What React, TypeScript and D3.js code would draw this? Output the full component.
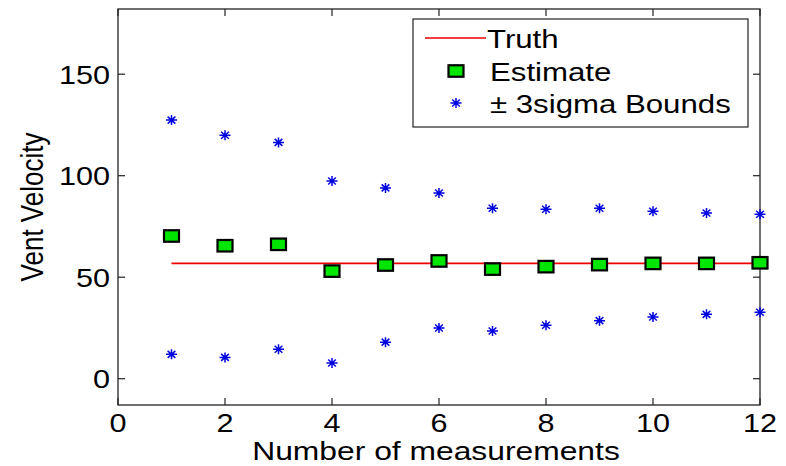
import React from "react";
import * as d3 from "d3";

// Measurement index and the quantities plotted against it
const measurements = [1, 2, 3, 4, 5, 6, 7, 8, 9, 10, 11, 12];
const estimate = [70.3, 65.5, 66.2, 53.0, 56.0, 58.0, 54.0, 55.2, 56.2, 56.8, 56.8, 57.1];
const upperBound = [127.4, 119.9, 116.4, 97.4, 94.0, 91.5, 84.0, 83.5, 84.0, 82.5, 81.6, 81.0];
const lowerBound = [12.0, 10.5, 14.5, 7.7, 18.0, 25.0, 23.5, 26.3, 28.6, 30.4, 31.7, 32.7];
const truthValue = 56.8;

const xTicks = [0, 2, 4, 6, 8, 10, 12];
const yTicks = [0, 50, 100, 150];

const legendLabels = ["Truth", "Estimate", "\u00b1 3sigma Bounds"];

const W = 786;
const H = 466;
const left = 118;
const right = 760;
const top = 9;
const bottom = 405;

const FONT = "'Liberation Sans', Arial, sans-serif";
const SX = 1.2;

const x = d3.scaleLinear().domain([0, 12]).range([left, right]);
const y = d3.scaleLinear().domain([0, 50]).range([378.7, 277.2]);

function Txt({ px, py, size, anchor = "start", rotate = 0, children }: any) {
  return (
    <text
      transform={`translate(${px},${py}) scale(${SX},1) rotate(${rotate})`}
      fontFamily={FONT}
      fontSize={size}
      textAnchor={anchor}
      fill="#000"
    >
      {children}
    </text>
  );
}

function Star({ cx, cy }: { cx: number; cy: number }) {
  const rx = 5.5;
  const ry = 5;
  const dx = rx * 0.7;
  const dy = ry * 0.7;
  return (
    <path
      d={`M${cx - rx},${cy}H${cx + rx}M${cx},${cy - ry}V${cy + ry}M${cx - dx},${cy - dy}L${cx + dx},${cy + dy}M${cx - dx},${cy + dy}L${cx + dx},${cy - dy}`}
      stroke="#0000e0"
      strokeWidth={1.5}
      fill="none"
    />
  );
}

function Square({ cx, cy }: { cx: number; cy: number }) {
  const w = 15;
  const h = 11.5;
  return (
    <rect
      x={cx - w / 2}
      y={cy - h / 2}
      width={w}
      height={h}
      fill="#00e600"
      stroke="#000"
      strokeWidth={2.2}
    />
  );
}

export default function App() {
  const truthLine = d3
    .line<number>()
    .x((d) => x(d))
    .y(() => y(truthValue))([measurements[0], measurements[measurements.length - 1]]);

  const tickLen = 7;

  return (
    <svg
      width={W}
      height={H}
      style={{ position: "absolute", left: 0, top: 0, background: "#fff" }}
    >
      <rect x={0} y={0} width={W} height={H} fill="#fff" />

      {/* Axes box */}
      <rect
        x={left}
        y={top}
        width={right - left}
        height={bottom - top}
        fill="none"
        stroke="#222"
        strokeWidth={1.3}
      />

      {/* Inward ticks on all four sides */}
      {xTicks.map((t) => (
        <g key={`xt${t}`}>
          <line x1={x(t)} x2={x(t)} y1={bottom} y2={bottom - tickLen} stroke="#222" strokeWidth={1.2} />
          <line x1={x(t)} x2={x(t)} y1={top} y2={top + tickLen} stroke="#222" strokeWidth={1.2} />
          <Txt px={x(t)} py={432} size={25.5} anchor="middle">
            {t}
          </Txt>
        </g>
      ))}
      {yTicks.map((t) => (
        <g key={`yt${t}`}>
          <line x1={left} x2={left + tickLen} y1={y(t)} y2={y(t)} stroke="#222" strokeWidth={1.2} />
          <line x1={right} x2={right - tickLen} y1={y(t)} y2={y(t)} stroke="#222" strokeWidth={1.2} />
          <Txt px={110} py={y(t) + 9.5} size={25.5} anchor="end">
            {t}
          </Txt>
        </g>
      ))}

      {/* Axis titles */}
      <Txt px={(left + right) / 2 - 3} py={460} size={26.5} anchor="middle">
        Number of measurements
      </Txt>
      <Txt px={43} py={207} size={26} anchor="middle" rotate={-90}>
        Vent Velocity
      </Txt>

      {/* Truth line */}
      <path d={truthLine ?? ""} stroke="#ee0000" strokeWidth={1.6} fill="none" />

      {/* ±3 sigma bounds */}
      {measurements.map((m, i) => (
        <g key={`b${m}`}>
          <Star cx={x(m)} cy={y(upperBound[i])} />
          <Star cx={x(m)} cy={y(lowerBound[i])} />
        </g>
      ))}

      {/* Estimates */}
      {measurements.map((m, i) => (
        <Square key={`e${m}`} cx={x(m)} cy={y(estimate[i])} />
      ))}

      {/* Legend */}
      <g>
        <rect x={413} y={19} width={335} height={108} fill="#fff" stroke="#222" strokeWidth={1.2} />
        <line x1={425} x2={486} y1={38} y2={38} stroke="#ee0000" strokeWidth={1.6} />
        <Txt px={487} py={47.5} size={26}>
          {legendLabels[0]}
        </Txt>
        <Square cx={456} cy={71} />
        <Txt px={490} py={80.5} size={26}>
          {legendLabels[1]}
        </Txt>
        <Star cx={456} cy={103} />
        <Txt px={490} py={113} size={26}>
          {legendLabels[2]}
        </Txt>
      </g>
    </svg>
  );
}
